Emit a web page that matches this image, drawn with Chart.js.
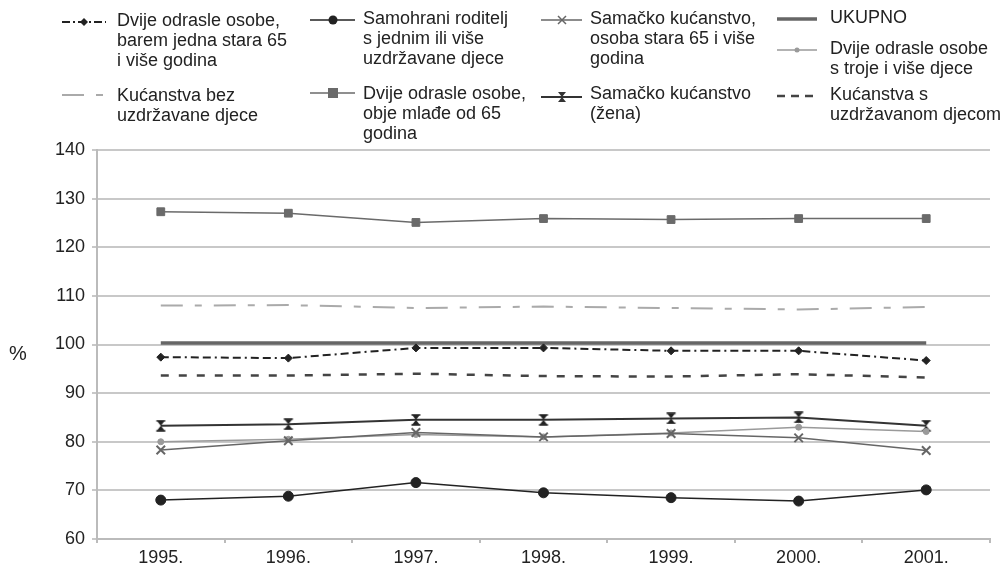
<!DOCTYPE html>
<html><head><meta charset="utf-8">
<script src="https://cdn.jsdelivr.net/npm/chart.js@4"></script>
<style>
html,body{margin:0;padding:0;background:#fff;}
#wrap{position:relative;width:1001px;height:565px;font-family:"Liberation Sans",Arial,sans-serif;color:#222;overflow:hidden;}
canvas{position:absolute;left:0;top:0;}
.lg{position:absolute;font-size:18px;line-height:20px;white-space:nowrap;}
.sw{position:absolute;}
#pct{position:absolute;left:9px;top:341px;font-size:20px;line-height:24px;}
</style></head>
<body><div id="wrap"><canvas id="c" width="1001" height="565"></canvas><div id="pct">%</div></div>
<script>
// ---- data ----
const years = ['1995.','1996.','1997.','1998.','1999.','2000.','2001.'];
const dvijeBarem65 = [97.4, 97.2, 99.3, 99.3, 98.7, 98.7, 96.7];
const samohrani    = [68.0, 68.8, 71.6, 69.5, 68.5, 67.8, 70.1];
const samacko65    = [78.3, 80.2, 81.9, 81.0, 81.7, 80.8, 78.2];
const ukupno       = [100.3, 100.3, 100.3, 100.3, 100.3, 100.3, 100.3];
const trojeDjece   = [80.0, 80.5, 81.5, 81.0, 81.8, 83.0, 82.1];
const bezDjece     = [108.0, 108.1, 107.5, 107.8, 107.5, 107.2, 107.7];
const objeMlade    = [127.3, 127.0, 125.1, 125.9, 125.7, 125.9, 125.9];
const zena         = [83.3, 83.6, 84.5, 84.5, 84.8, 85.0, 83.3];
const sDjecom      = [93.6, 93.6, 94.0, 93.5, 93.4, 93.9, 93.2];
const yTicks = {min: 60, max: 140, step: 10};

const names = [
  ['Dvije odrasle osobe,','barem jedna stara 65','i više godina'],
  ['Samohrani roditelj','s jednim ili više','uzdržavane djece'],
  ['Samačko kućanstvo,','osoba stara 65 i više','godina'],
  ['UKUPNO'],
  ['Dvije odrasle osobe','s troje i više djece'],
  ['Kućanstva bez','uzdržavane djece'],
  ['Dvije odrasle osobe,','obje mlađe od 65','godina'],
  ['Samačko kućanstvo','(žena)'],
  ['Kućanstva s','uzdržavanom djecom']
];

// hourglass marker
const hg = document.createElement('canvas');
hg.width = 12; hg.height = 12;
(function(){const g=hg.getContext('2d');g.fillStyle='#222';g.strokeStyle='#222';g.lineWidth=1.5;
 g.beginPath();g.moveTo(2,1);g.lineTo(10,1);g.lineTo(6,6);g.closePath();g.fill();
 g.beginPath();g.moveTo(2,11);g.lineTo(10,11);g.lineTo(6,6);g.closePath();g.fill();
 g.beginPath();g.moveTo(1.5,1);g.lineTo(10.5,1);g.moveTo(1.5,11);g.lineTo(10.5,11);g.stroke();})();

const styles = [
  {data:dvijeBarem65, color:'#222', w:2, dash:[8,4,8,4,2,4], pt:'rectRot', r:4, mk:'diamond'},
  {data:samohrani, color:'#222', w:1.5, dash:[], pt:'circle', r:5, mk:'circle'},
  {data:samacko65, color:'#666', w:1.5, dash:[], pt:'crossRot', r:6, mk:'x'},
  {data:ukupno, color:'#666', w:3.5, dash:[], pt:'circle', r:0, mk:''},
  {data:trojeDjece, color:'#9a9a9a', w:1.5, dash:[], pt:'circle', r:3, mk:'dot'},
  {data:bezDjece, color:'#aaa', w:2, dash:[22,12,7,12], pt:'circle', r:0, mk:''},
  {data:objeMlade, color:'#6a6a6a', w:1.5, dash:[], pt:'rect', r:5.5, mk:'square'},
  {data:zena, color:'#333', w:2, dash:[], pt:hg, r:6, mk:'hg'},
  {data:sDjecom, color:'#444', w:2.5, dash:[8,10], pt:'circle', r:0, mk:''}
];

const datasets = styles.map((s,i)=>({
  label: names[i].join(' '), data: s.data,
  borderColor: s.color, backgroundColor: s.color, borderWidth: s.w, borderDash: s.dash,
  pointStyle: s.pt, pointRadius: s.r, pointBorderWidth: s.mk==='x'?2:1,
  pointBackgroundColor: s.color, pointBorderColor: s.color, tension: 0, fill:false
}));

new Chart(document.getElementById('c'), {
  type: 'line',
  data: {labels: years, datasets},
  options: {
    responsive: false, animation: false,
    layout: {padding: {top: 150, right: 11, left: 0, bottom: 0}},
    plugins: {legend: {display: false}, tooltip: {enabled: false}},
    scales: {
      x: {offset: true,
          grid: {drawOnChartArea: false, drawTicks: true, tickLength: 4, color: '#bbb', lineWidth: 2, offset: true},
          border: {color: '#bbb', width: 2},
          ticks: {color: '#222', font: {size: 18, family: '"Liberation Sans", Arial, sans-serif'}, padding: 4, maxRotation: 0},
          afterFit(s){ s.height = 26; }},
      y: {min: yTicks.min, max: yTicks.max,
          grid: {color: '#c8c8c8', lineWidth: 2, tickLength: 5},
          border: {color: '#bbb', width: 2},
          ticks: {stepSize: yTicks.step, color: '#222', font: {size: 18, family: '"Liberation Sans", Arial, sans-serif'}, padding: 7},
          afterFit(s){ s.width = 97; }}
    }
  }
});

// ---- legend (HTML) ----
const swPos = [[62,20,44],[310,18,45],[541,18,41],[777,17,40],[777,48,40],[62,93,44],[310,91,45],[541,95,41],[777,94,40]];
const txPos = [[117,10],[363,8],[590,8],[830,7],[830,38],[117,85],[363,83],[590,83],[830,84]];
const wrap = document.getElementById('wrap');
function marker(mk, cx, c){
  if(mk==='diamond') return `<polygon points="${cx},2 ${cx+4},6 ${cx},10 ${cx-4},6" fill="${c}"/>`;
  if(mk==='circle') return `<circle cx="${cx}" cy="6" r="4.5" fill="${c}"/>`;
  if(mk==='x') return `<path d="M${cx-4} 2 L${cx+4} 10 M${cx+4} 2 L${cx-4} 10" stroke="${c}" stroke-width="1.5"/>`;
  if(mk==='dot') return `<circle cx="${cx}" cy="6" r="2.5" fill="${c}"/>`;
  if(mk==='square') return `<rect x="${cx-5}" y="1" width="10" height="10" fill="${c}"/>`;
  if(mk==='hg') return `<path d="M${cx-4} 1 L${cx+4} 1 L${cx} 6 Z M${cx-4} 11 L${cx+4} 11 L${cx} 6 Z" fill="${c}"/>`;
  return '';
}
const legendDash = [[8,3,2,3],[],[],[],[],[22,12,7,12],[],[],[8,6]];
styles.forEach((s,i)=>{
  const [x,cy,w] = swPos[i];
  let cx = Math.round(w/2);
  if(i===1||i===6) cx = 23;
  const dd = legendDash[i];
  const d = dd.length ? `stroke-dasharray="${dd.join(',')}"` : '';
  const svg = `<svg width="${w}" height="12"><line x1="0" y1="6" x2="${w}" y2="6" stroke="${s.color}" stroke-width="${s.w}" ${d}/>${marker(s.mk,cx,s.color)}</svg>`;
  const sw = document.createElement('div'); sw.className='sw';
  sw.style.left = x+'px'; sw.style.top = (cy-6)+'px'; sw.innerHTML = svg; wrap.appendChild(sw);
  const t = document.createElement('div'); t.className='lg';
  t.style.left = txPos[i][0]+'px'; t.style.top = txPos[i][1]+'px';
  t.innerHTML = names[i].join('<br>'); wrap.appendChild(t);
});
</script>
</body></html>
